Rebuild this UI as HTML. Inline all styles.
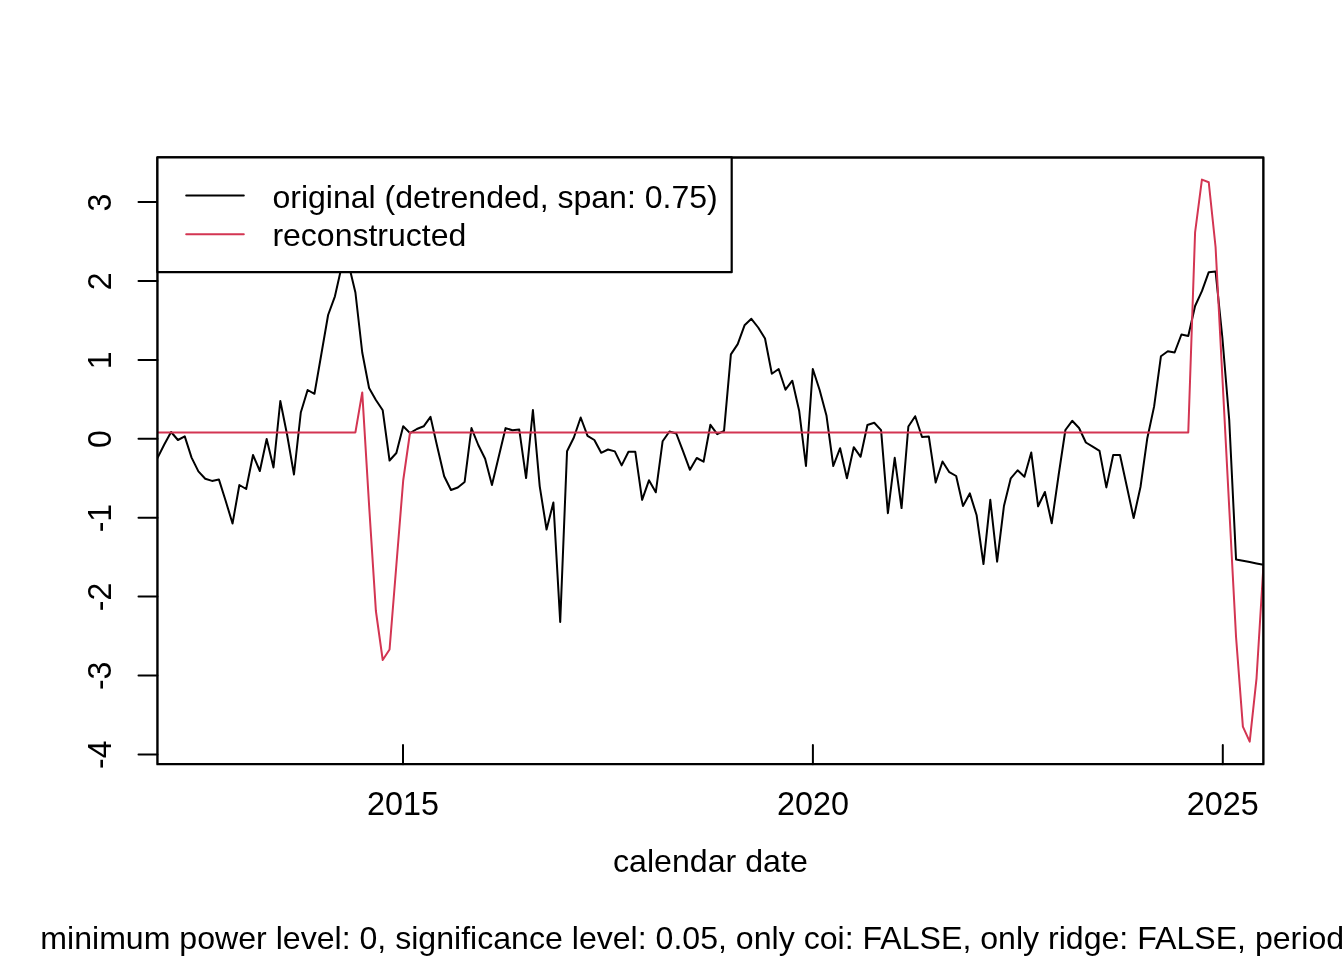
<!DOCTYPE html>
<html><head><meta charset="utf-8"><style>
html,body{margin:0;padding:0;background:#fff;width:1344px;height:960px;overflow:hidden}
svg{display:block;will-change:transform}
text{font-family:"Liberation Sans",sans-serif;font-size:32px;fill:#000}
</style></head><body>
<svg width="1344" height="960" viewBox="0 0 1344 960">
<rect x="0" y="0" width="1344" height="960" fill="#fff"/>
<defs><clipPath id="pc"><rect x="157.44" y="157.44" width="1105.92" height="606.72"/></clipPath></defs>
<g clip-path="url(#pc)" fill="none" stroke-width="2" stroke-linejoin="round" stroke-linecap="round">
<polyline stroke="#000" points="157.44,458.00 164.27,444.50 171.09,432.00 177.92,440.00 184.75,436.40 191.57,457.60 198.40,471.40 205.23,478.70 212.05,480.90 218.88,479.40 225.71,501.00 232.53,523.50 239.36,485.00 246.19,489.00 253.01,455.00 259.84,471.00 266.67,439.00 273.49,467.50 280.32,401.00 287.15,435.00 293.97,474.50 300.80,412.50 307.63,390.00 314.45,393.80 321.28,354.50 328.11,315.00 334.93,296.30 341.76,266.00 348.59,264.00 355.41,292.50 362.24,352.50 369.07,388.00 375.89,400.00 382.72,410.30 389.55,460.50 396.37,453.00 403.20,426.20 410.03,433.10 416.85,429.00 423.68,426.30 430.51,416.90 437.33,447.00 444.16,476.30 450.99,490.00 457.81,487.50 464.64,481.90 471.47,428.10 478.29,445.00 485.12,458.80 491.95,485.00 498.77,456.60 505.60,428.10 512.43,430.30 519.25,429.60 526.08,478.10 532.91,410.00 539.73,486.30 546.56,529.50 553.39,502.50 560.21,622.00 567.04,451.30 573.87,437.50 580.69,417.50 587.52,435.80 594.35,440.00 601.17,452.80 608.00,449.50 614.83,451.40 621.65,465.40 628.48,451.80 635.31,451.80 642.13,499.80 648.96,480.30 655.79,492.30 662.61,441.30 669.44,431.50 676.27,433.50 683.09,451.40 689.92,469.80 696.75,458.00 703.57,461.70 710.40,424.80 717.23,434.10 724.05,430.80 730.88,354.40 737.71,344.10 744.53,325.30 751.36,318.80 758.19,327.50 765.01,338.50 771.84,373.70 778.67,369.00 785.49,389.70 792.32,380.70 799.15,410.70 805.97,466.00 812.80,369.00 819.63,390.00 826.45,415.40 833.28,466.00 840.11,448.20 846.93,478.20 853.76,447.20 860.59,456.80 867.41,425.00 874.24,422.80 881.07,430.10 887.89,513.20 894.72,457.80 901.55,508.10 908.37,426.50 915.20,416.20 922.03,437.00 928.85,436.60 935.68,482.50 942.51,461.50 949.33,472.20 956.16,476.00 962.99,506.00 969.81,493.40 976.64,515.30 983.47,564.10 990.29,499.80 997.12,561.70 1003.95,506.00 1010.77,478.30 1017.60,470.30 1024.43,476.70 1031.25,452.50 1038.08,506.30 1044.91,492.00 1051.73,523.30 1058.56,475.50 1065.39,430.00 1072.21,420.80 1079.04,428.00 1085.87,442.50 1092.69,446.70 1099.52,450.90 1106.35,487.40 1113.17,455.00 1120.00,455.00 1126.83,486.50 1133.65,518.00 1140.48,487.00 1147.31,438.20 1154.13,406.40 1160.96,356.20 1167.79,351.30 1174.61,352.50 1181.44,334.50 1188.27,336.00 1195.09,306.00 1201.92,291.20 1208.75,272.20 1215.57,271.50 1222.40,338.00 1229.23,420.00 1236.05,559.50 1242.88,560.80 1249.71,562.10 1256.53,563.40 1263.36,564.80"/>
<polyline stroke="#D33552" points="157.44,432.40 164.27,432.40 171.09,432.40 177.92,432.40 184.75,432.40 191.57,432.40 198.40,432.40 205.23,432.40 212.05,432.40 218.88,432.40 225.71,432.40 232.53,432.40 239.36,432.40 246.19,432.40 253.01,432.40 259.84,432.40 266.67,432.40 273.49,432.40 280.32,432.40 287.15,432.40 293.97,432.40 300.80,432.40 307.63,432.40 314.45,432.40 321.28,432.40 328.11,432.40 334.93,432.40 341.76,432.40 348.59,432.40 355.41,432.40 362.24,392.40 369.07,505.00 375.89,611.00 382.72,660.00 389.55,649.50 396.37,565.00 403.20,480.50 410.03,432.50 416.85,432.40 423.68,432.40 430.51,432.40 437.33,432.40 444.16,432.40 450.99,432.40 457.81,432.40 464.64,432.40 471.47,432.40 478.29,432.40 485.12,432.40 491.95,432.40 498.77,432.40 505.60,432.40 512.43,432.40 519.25,432.40 526.08,432.40 532.91,432.40 539.73,432.40 546.56,432.40 553.39,432.40 560.21,432.40 567.04,432.40 573.87,432.40 580.69,432.40 587.52,432.40 594.35,432.40 601.17,432.40 608.00,432.40 614.83,432.40 621.65,432.40 628.48,432.40 635.31,432.40 642.13,432.40 648.96,432.40 655.79,432.40 662.61,432.40 669.44,432.40 676.27,432.40 683.09,432.40 689.92,432.40 696.75,432.40 703.57,432.40 710.40,432.40 717.23,432.40 724.05,432.40 730.88,432.40 737.71,432.40 744.53,432.40 751.36,432.40 758.19,432.40 765.01,432.40 771.84,432.40 778.67,432.40 785.49,432.40 792.32,432.40 799.15,432.40 805.97,432.40 812.80,432.40 819.63,432.40 826.45,432.40 833.28,432.40 840.11,432.40 846.93,432.40 853.76,432.40 860.59,432.40 867.41,432.40 874.24,432.40 881.07,432.40 887.89,432.40 894.72,432.40 901.55,432.40 908.37,432.40 915.20,432.40 922.03,432.40 928.85,432.40 935.68,432.40 942.51,432.40 949.33,432.40 956.16,432.40 962.99,432.40 969.81,432.40 976.64,432.40 983.47,432.40 990.29,432.40 997.12,432.40 1003.95,432.40 1010.77,432.40 1017.60,432.40 1024.43,432.40 1031.25,432.40 1038.08,432.40 1044.91,432.40 1051.73,432.40 1058.56,432.40 1065.39,432.40 1072.21,432.40 1079.04,432.40 1085.87,432.40 1092.69,432.40 1099.52,432.40 1106.35,432.40 1113.17,432.40 1120.00,432.40 1126.83,432.40 1133.65,432.40 1140.48,432.40 1147.31,432.40 1154.13,432.40 1160.96,432.40 1167.79,432.40 1174.61,432.40 1181.44,432.40 1188.27,432.40 1195.09,232.30 1201.92,179.60 1208.75,182.30 1215.57,247.00 1222.40,377.60 1229.23,508.00 1236.05,637.00 1242.88,726.70 1249.71,741.70 1256.53,678.30 1263.36,566.70"/>
</g>
<g stroke="#000" stroke-width="2" fill="none" stroke-linecap="round">
<rect x="157.44" y="157.44" width="1105.92" height="606.72" stroke-width="2.4" stroke-linejoin="round"/>
<line x1="138.5" y1="202.10" x2="157.44" y2="202.10"/><line x1="138.5" y1="281.00" x2="157.44" y2="281.00"/><line x1="138.5" y1="359.90" x2="157.44" y2="359.90"/><line x1="138.5" y1="438.80" x2="157.44" y2="438.80"/><line x1="138.5" y1="517.70" x2="157.44" y2="517.70"/><line x1="138.5" y1="596.60" x2="157.44" y2="596.60"/><line x1="138.5" y1="675.50" x2="157.44" y2="675.50"/><line x1="138.5" y1="754.40" x2="157.44" y2="754.40"/>
<line x1="403.0" y1="745" x2="403.0" y2="764.16"/><line x1="812.9" y1="745" x2="812.9" y2="764.16"/><line x1="1222.8" y1="745" x2="1222.8" y2="764.16"/>
</g>
<rect x="157.44" y="157.44" width="574.26" height="114.76" fill="#fff" stroke="#000" stroke-width="2.2" stroke-linejoin="round"/>
<line x1="186.2" y1="195.6" x2="243.8" y2="195.6" stroke="#000" stroke-width="2" stroke-linecap="round"/>
<line x1="186.2" y1="234.3" x2="243.8" y2="234.3" stroke="#D33552" stroke-width="2" stroke-linecap="round"/>
<text x="272.4" y="208.1" textLength="445.4" lengthAdjust="spacingAndGlyphs">original (detrended, span: 0.75)</text>
<text x="272.4" y="245.6">reconstructed</text>
<text transform="translate(111.0,202.50) rotate(-90) scale(1,1.065)" text-anchor="middle">3</text><text transform="translate(111.0,281.40) rotate(-90) scale(1,1.065)" text-anchor="middle">2</text><text transform="translate(111.0,360.30) rotate(-90) scale(1,1.065)" text-anchor="middle">1</text><text transform="translate(111.0,439.20) rotate(-90) scale(1,1.065)" text-anchor="middle">0</text><text transform="translate(111.0,518.10) rotate(-90) scale(1,1.065)" text-anchor="middle">-1</text><text transform="translate(111.0,597.00) rotate(-90) scale(1,1.065)" text-anchor="middle">-2</text><text transform="translate(111.0,675.90) rotate(-90) scale(1,1.065)" text-anchor="middle">-3</text><text transform="translate(111.0,754.80) rotate(-90) scale(1,1.065)" text-anchor="middle">-4</text>
<text transform="translate(403.0,815.2) scale(1.012,1.045)" text-anchor="middle">2015</text><text transform="translate(812.9,815.2) scale(1.012,1.045)" text-anchor="middle">2020</text><text transform="translate(1222.8,815.2) scale(1.012,1.045)" text-anchor="middle">2025</text>
<text x="710.4" y="872.2" text-anchor="middle" textLength="194.7" lengthAdjust="spacingAndGlyphs">calendar date</text>
<text x="40.3" y="949" textLength="1303.8" lengthAdjust="spacingAndGlyphs">minimum power level: 0, significance level: 0.05, only coi: FALSE, only ridge: FALSE, period</text>
</svg>
</body></html>
